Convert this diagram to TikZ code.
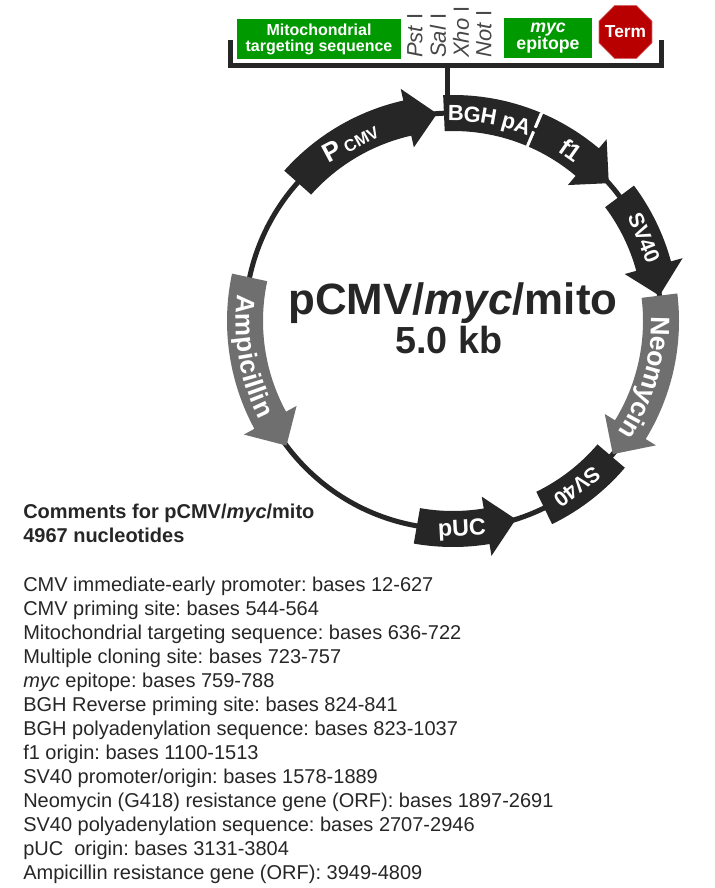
\documentclass[tikz,border=0pt]{standalone}
\usepackage{fontspec}
\setmainfont{Liberation Sans}
\usepackage{xcolor}
\usetikzlibrary{calc,shapes.geometric,decorations.text}
\definecolor{mapdark}{HTML}{262626}
\definecolor{mapgray}{HTML}{6F6F6F}
\definecolor{mapgreen}{HTML}{009900}
\definecolor{mapred}{HTML}{B80000}
\newcommand{\fsz}[1]{\fontsize{#1}{#1}\selectfont}
% start angle, neck angle, tip angle, colour
\newcommand{\featurearrow}[4]{%
  \fill[#4] (#1:190) arc[start angle=#1,end angle=#2,radius=190] -- (#2:178)
    -- (#3:208) -- (#2:238) -- (#2:226) arc[start angle=#2,end angle=#1,radius=226] -- cycle;}
\tikzset{
  greenbox/.style={fill=mapgreen,text=white,font=\bfseries\fsz{12},align=center,
    inner sep=0pt,minimum height=30pt},
  sitelabel/.style={rotate=90,anchor=west,inner sep=0pt,text=mapdark!85,font=\fsz{16.5}},
  featlabel/.style={text=white,font=\bfseries,inner sep=0pt},
}
\begin{document}
\begin{tikzpicture}[x=0.75pt,y=0.75pt]
  \useasboundingbox (0,0) rectangle (714,-888);
  \coordinate (O) at (453,-321);
  % cloning region
  \draw[mapdark,line width=3.75pt] (230.5,-40) -- (230.5,-65.5) -- (661.5,-65.5) -- (661.5,-40);
  \draw[mapdark,line width=3.75pt] (447.5,-65.5) -- (447.5,-95);
  \node[greenbox,minimum width=123pt] (mitoBox) at (319,-39) {Mitochondrial\\targeting sequence};
  \node[sitelabel] (pstSite) at (415,-58) {\textit{Pst} I};
  \node[sitelabel] (salSite) at (438,-58) {\textit{Sal} I};
  \node[sitelabel] (xhoSite) at (461,-58) {\textit{Xho} I};
  \node[sitelabel] (notSite) at (484,-58) {\textit{Not} I};
  \node[greenbox,minimum width=66pt,font=\bfseries\fsz{13.3}] (mycBox) at (548,-38) {\textit{myc}\\epitope};
  \node[regular polygon,regular polygon sides=8,minimum size=43pt,inner sep=0pt,
        fill=mapred,draw=mapred!60,line width=0.5pt,text=white,font=\bfseries\fsz{13}]
        (termStop) at (625.5,-32) {\makebox[0pt]{Term}};
  % plasmid ring and features
  \begin{scope}[shift={(O)}]
    \draw[mapdark,line width=3.75pt] (0,0) circle (208);
    \featurearrow{138.3}{102.7}{94.4}{mapdark}
    \fill[mapdark] (92.5:190) arc[start angle=92.5,end angle=67,radius=190] -- (67:226)
      arc[start angle=67,end angle=92.5,radius=226] -- cycle;
    \featurearrow{66.5}{49.8}{41.5}{mapdark}
    \draw[white,line width=2pt] (67:190) -- (67:206) (67:210) -- (67:226);
    \featurearrow{36.8}{15.3}{7}{mapdark}
    \featurearrow{7}{-31.5}{-39.8}{mapgray}
    \fill[mapdark] (-40.5:190) arc[start angle=-40.5,end angle=-64,radius=190] -- (-64:226)
      arc[start angle=-64,end angle=-40.5,radius=226] -- cycle;
    \featurearrow{-100}{-80.7}{-72.4}{mapdark}
    \featurearrow{167.9}{208.5}{216.8}{mapgray}
    \path[decorate,decoration={text along path,text align=center,raise=-7pt,
        text={|\color{white}\bfseries\fsz{19.5}|Ampicillin}}]
      (167.9:208) arc[start angle=167.9,end angle=212,radius=208];
    \path[decorate,decoration={text along path,text align=center,raise=-7pt,
        text={|\color{white}\bfseries\fsz{20}|Neomycin}}]
      (7:208) arc[start angle=7,end angle=-39.8,radius=208];
    \path[decorate,decoration={text along path,text align=center,raise=-6pt,
        text={|\color{white}\bfseries\fsz{16.5}|BGH pA}}]
      (92.5:208) arc[start angle=92.5,end angle=67,radius=208];
  \end{scope}
  \node[featlabel,rotate=28] (pcmvLabel) at (350,-142) {\fsz{20}P\,\fsz{12.5}CMV};
  \node[featlabel,rotate=-35,font=\bfseries\fsz{18}] (fOneLabel) at (571,-150) {f1};
  \node[featlabel,rotate=-68,font=\bfseries\fsz{16}] (svUpLabel) at (644,-238) {SV40};
  \node[featlabel,rotate=218,font=\bfseries\fsz{16}] (svDownLabel) at (577,-487) {SV40};
  \node[featlabel,rotate=3,font=\bfseries\fsz{17.5}] (pucLabel) at (462,-530) {pUC};
  % centre title
  \node[text=mapdark,font=\bfseries\fsz{32.9},inner sep=0pt] (titleLabel) at (453,-303) {pCMV/\textit{myc}/mito};
  \node[text=mapdark,font=\bfseries\fsz{28.3},inner sep=0pt] (sizeLabel) at (449,-340) {5.0 kb};
  % notes
  \node[anchor=base west,inner sep=0pt,align=left,text=mapdark,font=\frenchspacing\bfseries\fontsize{15}{18}\selectfont]
    (commentHead) at (23,-542) {Comments for pCMV/\textit{myc}/mito\\4967 nucleotides};
  \node[anchor=base west,inner sep=0pt,align=left,text=mapdark,font=\frenchspacing\fontsize{15}{18}\selectfont]
    (baseList) at (23,-879) {CMV immediate-early promoter: bases 12-627\\
    CMV priming site: bases 544-564\\
    Mitochondrial targeting sequence: bases 636-722\\
    Multiple cloning site: bases 723-757\\
    \textit{myc} epitope: bases 759-788\\
    BGH Reverse priming site: bases 824-841\\
    BGH polyadenylation sequence: bases 823-1037\\
    f1 origin: bases 1100-1513\\
    SV40 promoter/origin: bases 1578-1889\\
    Neomycin (G418) resistance gene (ORF): bases 1897-2691\\
    SV40 polyadenylation sequence: bases 2707-2946\\
    pUC\ \ origin: bases 3131-3804\\
    Ampicillin resistance gene (ORF): 3949-4809};
\end{tikzpicture}
\end{document}
